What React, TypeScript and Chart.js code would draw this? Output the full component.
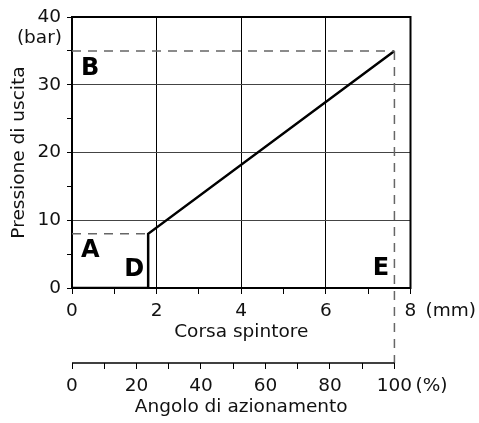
import React, { useEffect, useRef } from "react";
import { Chart, registerables } from "chart.js";

Chart.register(...registerables);

// Output pressure vs. pusher stroke
const strokeMm = [0, 1.8, 1.8, 7.62];
const pressureBar = [0, 0, 8, 35];

// Guide points: opening threshold and full stroke
const thresholdMm = 1.8;
const thresholdBar = 8;
const fullStrokeMm = 7.62;
const maxBar = 35;

// Zone letters
const zoneLetters = ["A", "B", "D", "E"];
const zoneLetterMm = [0.43, 0.43, 1.47, 7.3];
const zoneLetterBar = [5.5, 32.4, 2.7, 2.9];

// Axis ranges and ticks
const strokeMax = 8;
const pressureMax = 40;
const anglePercentMax = 100;
const angleTickValues = [0, 10, 20, 30, 40, 50, 60, 70, 80, 90, 100];
const angleLabelStep = 20;

const FONT = "'DejaVu Sans', Verdana, sans-serif";
const TEXT = "#111";
const FS = 18.5;

const overlayPlugin = {
  id: "overlay",
  afterDatasetsDraw(chart: any) {
    const { ctx, chartArea, scales } = chart;
    const x = scales.x;
    const y = scales.y;
    const x2 = scales.x2;
    ctx.save();

    // top and right frame
    ctx.strokeStyle = "#000";
    ctx.lineWidth = 2;
    ctx.beginPath();
    ctx.moveTo(chartArea.left - 1, chartArea.top);
    ctx.lineTo(chartArea.right, chartArea.top);
    ctx.lineTo(chartArea.right, chartArea.bottom + 1);
    ctx.stroke();

    // dashed guides
    ctx.strokeStyle = "#666";
    ctx.lineWidth = 1.5;
    ctx.setLineDash([9, 7]);
    ctx.beginPath();
    ctx.moveTo(x.getPixelForValue(0), y.getPixelForValue(thresholdBar));
    ctx.lineTo(x.getPixelForValue(thresholdMm), y.getPixelForValue(thresholdBar));
    ctx.moveTo(x.getPixelForValue(0), y.getPixelForValue(maxBar));
    ctx.lineTo(x.getPixelForValue(fullStrokeMm), y.getPixelForValue(maxBar));
    ctx.moveTo(x.getPixelForValue(fullStrokeMm), y.getPixelForValue(maxBar));
    ctx.lineTo(x.getPixelForValue(fullStrokeMm), x2.top);
    ctx.stroke();
    ctx.setLineDash([]);

    // angle axis line, 0..100 %
    ctx.strokeStyle = "#000";
    ctx.lineWidth = 1.5;
    ctx.beginPath();
    ctx.moveTo(x2.getPixelForValue(0), x2.top);
    ctx.lineTo(x2.getPixelForValue(anglePercentMax), x2.top);
    ctx.stroke();

    // zone letters
    ctx.fillStyle = "#000";
    ctx.font = `bold 24px ${FONT}`;
    ctx.textAlign = "center";
    ctx.textBaseline = "middle";
    zoneLetters.forEach((t, i) => {
      ctx.fillText(t, x.getPixelForValue(zoneLetterMm[i]), y.getPixelForValue(zoneLetterBar[i]));
    });

    // unit labels
    ctx.fillStyle = TEXT;
    ctx.font = `${FS}px ${FONT}`;
    ctx.textAlign = "right";
    ctx.fillText("(bar)", chartArea.left - 10, y.getPixelForValue(pressureMax) + 21);
    ctx.textAlign = "left";
    ctx.fillText("(mm)", x.getPixelForValue(strokeMax) + 15, x.top + 23);
    ctx.fillText("(%)", x2.getPixelForValue(anglePercentMax) + 21, x2.top + 23);
    ctx.restore();
  },
};

export default function App() {
  const ref = useRef<HTMLCanvasElement>(null);

  useEffect(() => {
    if (!ref.current) return;
    const tickFont = { family: FONT, size: FS };
    const chart = new Chart(ref.current, {
      type: "scatter",
      data: {
        datasets: [
          {
            data: strokeMm.map((v, i) => ({ x: v, y: pressureBar[i] })),
            showLine: true,
            borderColor: "#000",
            borderWidth: 2.5,
            pointRadius: 0,
            fill: false,
            tension: 0,
          },
        ],
      },
      options: {
        animation: false,
        responsive: false,
        devicePixelRatio: 1,
        layout: { padding: { top: 14, right: 68.5, bottom: 0, left: 0 } },
        plugins: { legend: { display: false }, tooltip: { enabled: false } },
        scales: {
          x: {
            type: "linear",
            position: "bottom",
            min: 0,
            max: strokeMax,
            weight: 0,
            afterFit: (s: any) => {
              s.height = 75;
            },
            ticks: {
              stepSize: 1,
              font: tickFont,
              color: TEXT,
              padding: 6,
              maxRotation: 0,
              autoSkip: false,
              callback: (v: any) => (Math.round(Number(v)) % 2 === 0 ? String(Math.round(Number(v))) : ""),
            },
            grid: {
              color: (c: any) =>
                c.tick && c.tick.value % 2 === 0 && c.tick.value > 0 && c.tick.value < strokeMax
                  ? "#000"
                  : "rgba(0,0,0,0)",
              tickColor: "#000",
              tickLength: 6,
              lineWidth: 1,
            },
            border: { display: true, color: "#000", width: 2 },
            title: {
              display: true,
              text: "Corsa spintore",
              font: tickFont,
              color: TEXT,
              padding: { top: 0, bottom: 20 },
            },
          },
          x2: {
            type: "linear",
            position: "bottom",
            min: 0,
            max: (anglePercentMax * strokeMax) / fullStrokeMm,
            weight: 1,
            afterFit: (s: any) => {
              s.height = 60;
            },
            afterBuildTicks: (s: any) => {
              s.ticks = angleTickValues.map((v) => ({ value: v }));
            },
            ticks: {
              font: tickFont,
              color: TEXT,
              padding: 6,
              maxRotation: 0,
              autoSkip: false,
              callback: (v: any) => {
                const n = Math.round(Number(v));
                return n % angleLabelStep === 0 ? String(n) : "";
              },
            },
            grid: {
              drawOnChartArea: false,
              tickColor: "#000",
              tickLength: 6,
              lineWidth: 1,
            },
            border: { display: false },
            title: {
              display: true,
              text: "Angolo di azionamento",
              font: tickFont,
              color: TEXT,
              padding: { top: 0, bottom: 5 },
            },
          },
          y: {
            type: "linear",
            min: 0,
            max: pressureMax,
            afterFit: (s: any) => {
              s.width = 72;
            },
            ticks: {
              stepSize: 5,
              font: tickFont,
              color: TEXT,
              padding: 6,
              callback: (v: any) => (Number(v) % 10 === 0 ? String(v) : ""),
            },
            grid: {
              color: (c: any) =>
                c.tick && c.tick.value % 10 === 0 && c.tick.value > 0 && c.tick.value < pressureMax
                  ? "#444"
                  : "rgba(0,0,0,0)",
              tickColor: "#000",
              tickLength: 5,
              lineWidth: 1,
            },
            border: { display: true, color: "#000", width: 2 },
            title: {
              display: true,
              text: "Pressione di uscita",
              font: tickFont,
              color: TEXT,
              padding: { top: 8, bottom: 0 },
            },
          },
        },
      },
      plugins: [overlayPlugin],
    } as any);
    return () => chart.destroy();
  }, []);

  return (
    <div style={{ position: "absolute", left: 0, top: 0, width: 479, height: 423, background: "#fff" }}>
      <canvas ref={ref} width={479} height={423} style={{ display: "block" }} />
    </div>
  );
}
